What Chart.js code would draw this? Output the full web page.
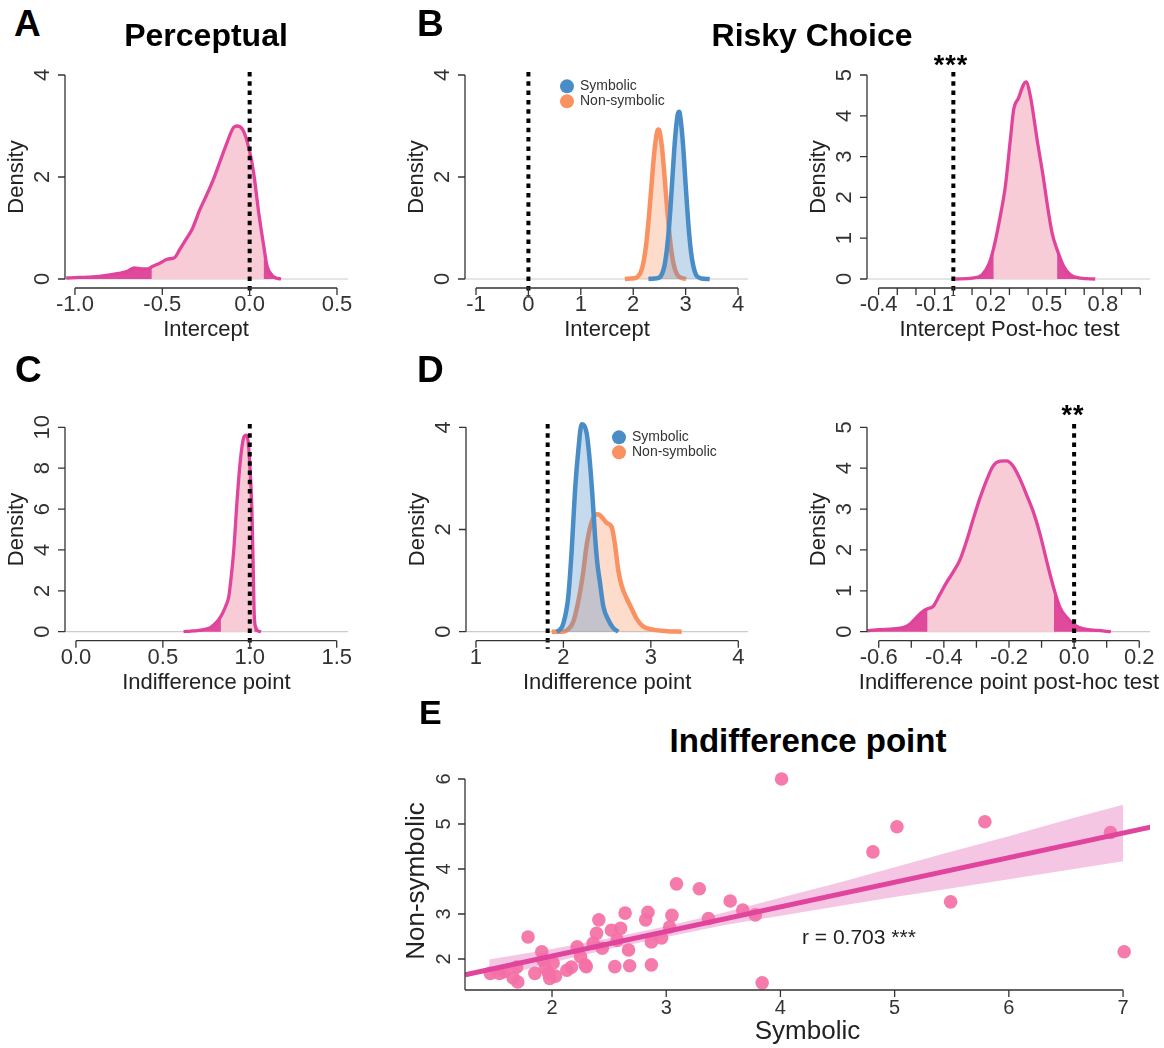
<!DOCTYPE html>
<html>
<head>
<meta charset="utf-8">
<script src="https://cdn.jsdelivr.net/npm/chart.js@4.4.1/dist/chart.umd.min.js"></script>
<style>
    body { margin: 0; background: #fff; width: 1164px; height: 1048px; position: relative; overflow: hidden;
           font-family: "Liberation Sans", Arial, sans-serif; }
    canvas { position: absolute; }
    .lbl { position: absolute; white-space: nowrap; line-height: 1; color: #000; }
    .dot { display: inline-block; width: 14px; height: 14px; border-radius: 50%; vertical-align: middle; margin-right: 6px; }
    .leg { position: absolute; font-size: 14px; color: #333; line-height: 1; white-space: nowrap; transform: translate(-7px, -50%); }
</style>
</head>
<body>
<canvas id="cA"></canvas>
<canvas id="cB1"></canvas>
<canvas id="cB2"></canvas>
<canvas id="cC"></canvas>
<canvas id="cD1"></canvas>
<canvas id="cD2"></canvas>
<canvas id="cE"></canvas>

<div class="lbl" style="left:14px;top:23px;transform:translateY(-50%);font-size:37px;font-weight:bold">A</div>
<div class="lbl" style="left:206px;top:35px;transform:translate(-50%,-50%);font-size:32px;font-weight:bold">Perceptual</div>
<div class="lbl" style="left:417px;top:23px;transform:translateY(-50%);font-size:37px;font-weight:bold">B</div>
<div class="lbl" style="left:812px;top:35px;transform:translate(-50%,-50%);font-size:32px;font-weight:bold">Risky Choice</div>
<div class="lbl" style="left:15px;top:369px;transform:translateY(-50%);font-size:37px;font-weight:bold">C</div>
<div class="lbl" style="left:417px;top:369px;transform:translateY(-50%);font-size:37px;font-weight:bold">D</div>
<div class="lbl" style="left:419px;top:712px;transform:translateY(-50%);font-size:34px;font-weight:bold">E</div>
<div class="lbl" style="left:808px;top:740px;transform:translate(-50%,-50%);font-size:33px;font-weight:bold">Indifference point</div>

<div class="lbl" style="left:951px;top:65px;transform:translate(-50%,-50%);font-size:27px;font-weight:bold;letter-spacing:1px">***</div>
<div class="lbl" style="left:1073px;top:415px;transform:translate(-50%,-50%);font-size:27px;font-weight:bold;letter-spacing:1px">**</div>
<div class="lbl" style="left:802px;top:936px;transform:translateY(-50%);font-size:21px;color:#222">r = 0.703 ***</div>

<div class="leg" style="left:567px;top:86px"><span class="dot" style="background:#4a8dc6"></span>Symbolic</div>
<div class="leg" style="left:567px;top:101px"><span class="dot" style="background:#fa9160"></span>Non-symbolic</div>
<div class="leg" style="left:619px;top:437px"><span class="dot" style="background:#4a8dc6"></span>Symbolic</div>
<div class="leg" style="left:619px;top:452px"><span class="dot" style="background:#fa9160"></span>Non-symbolic</div>

<script>
// ---- data ----

// A: perceptual intercept posterior
const percX = [-1.05, -0.98, -0.9, -0.82, -0.75, -0.7, -0.66, -0.62, -0.58, -0.56, -0.52, -0.47, -0.43, -0.4, -0.36, -0.33, -0.285, -0.25, -0.208, -0.17, -0.13, -0.092, -0.07, -0.035, 0, 0.023, 0.052, 0.08, 0.1, 0.129, 0.15, 0.18];
const percY = [0.02, 0.03, 0.04, 0.07, 0.11, 0.15, 0.22, 0.2, 0.2, 0.24, 0.3, 0.39, 0.42, 0.58, 0.8, 0.97, 1.36, 1.62, 1.95, 2.3, 2.67, 2.97, 3.0, 2.9, 2.5, 2.08, 1.3, 0.66, 0.25, 0.07, 0.02, 0.0];
const percCI = [-0.56, 0.08];

// B left: risky choice intercept
const riskIntSymX = [2.29, 2.4, 2.5, 2.55, 2.6, 2.65, 2.7, 2.75, 2.8, 2.85, 2.88, 2.9, 2.95, 3.0, 3.05, 3.1, 3.15, 3.2, 3.25, 3.3, 3.46];
const riskIntSymY = [0.0, 0.01, 0.03, 0.1, 0.28, 0.65, 1.24, 2.02, 2.77, 3.23, 3.28, 3.17, 2.64, 1.85, 1.1, 0.55, 0.24, 0.08, 0.03, 0.01, 0.0];
const riskIntNonX = [1.84, 1.95, 2.05, 2.1, 2.15, 2.2, 2.25, 2.3, 2.35, 2.4, 2.45, 2.48, 2.5, 2.55, 2.6, 2.65, 2.7, 2.75, 2.8, 2.85, 2.9, 3.01];
const riskIntNonY = [0.0, 0.01, 0.02, 0.06, 0.15, 0.35, 0.7, 1.23, 1.85, 2.46, 2.86, 2.93, 2.9, 2.57, 1.98, 1.34, 0.79, 0.4, 0.18, 0.07, 0.03, 0.0];

// B right: intercept post-hoc test
const postIntX = [0.011, 0.1, 0.153, 0.189, 0.216, 0.251, 0.278, 0.305, 0.323, 0.349, 0.376, 0.389, 0.412, 0.448, 0.483, 0.501, 0.528, 0.555, 0.59, 0.626, 0.679, 0.759];
const postIntY = [0.0, 0.02, 0.1, 0.35, 0.76, 1.54, 2.27, 3.42, 4.16, 4.44, 4.77, 4.83, 4.48, 3.42, 2.44, 1.87, 1.13, 0.72, 0.31, 0.1, 0.02, 0.0];
const postIntCI = [0.216, 0.555];

// C: perceptual indifference point
const percIndX = [0.619, 0.66, 0.696, 0.734, 0.773, 0.802, 0.834, 0.86, 0.879, 0.889, 0.908, 0.927, 0.946, 0.965, 0.979, 0.99, 1.0, 1.012, 1.02, 1.026, 1.035, 1.045, 1.065];
const percIndY = [0.0, 0.03, 0.05, 0.1, 0.2, 0.4, 0.75, 1.22, 1.71, 2.37, 4.0, 6.44, 8.4, 9.5, 9.62, 9.35, 8.2, 6.0, 3.0, 0.75, 0.2, 0.05, 0.0];
const percIndCI = [0.834, 1.026];

// D left: risky choice indifference point
const riskIndSymX = [1.923, 1.961, 1.999, 2.056, 2.095, 2.133, 2.171, 2.209, 2.266, 2.304, 2.335, 2.362, 2.388, 2.419, 2.457, 2.514, 2.571, 2.628];
const riskIndSymY = [0.0, 0.04, 0.16, 0.69, 1.6, 2.77, 3.56, 4.06, 3.88, 3.29, 2.58, 1.86, 1.34, 0.95, 0.49, 0.23, 0.07, 0.0];
const riskIndNonX = [1.866, 1.999, 2.056, 2.114, 2.171, 2.221, 2.266, 2.323, 2.381, 2.419, 2.495, 2.552, 2.59, 2.628, 2.666, 2.724, 2.781, 2.838, 2.914, 3.028, 3.182, 3.353];
const riskIndNonY = [0.0, 0.0, 0.05, 0.2, 0.6, 1.1, 1.7, 2.15, 2.3, 2.28, 2.13, 2.05, 1.7, 1.2, 0.9, 0.65, 0.45, 0.25, 0.1, 0.04, 0.01, 0.0];

// D right: indifference point post-hoc test
const postIndX = [-0.638, -0.597, -0.556, -0.525, -0.505, -0.484, -0.464, -0.45, -0.433, -0.413, -0.392, -0.372, -0.351, -0.331, -0.31, -0.29, -0.269, -0.249, -0.228, -0.208, -0.187, -0.167, -0.146, -0.126, -0.105, -0.085, -0.062, -0.044, -0.023, 0.0, 0.03, 0.072, 0.113];
const postIndY = [0.02, 0.05, 0.07, 0.1, 0.18, 0.35, 0.5, 0.56, 0.62, 0.9, 1.2, 1.45, 1.75, 2.2, 2.75, 3.25, 3.7, 4.05, 4.17, 4.18, 4.05, 3.75, 3.35, 2.95, 2.4, 1.75, 1.05, 0.6, 0.35, 0.17, 0.07, 0.03, 0.0];
const postIndCI = [-0.45, -0.062];

// E: per-participant indifference points
const symbolic = [1.46, 1.54, 1.58, 1.66, 1.70, 1.69, 1.79, 1.91, 1.85, 1.92, 1.97, 1.98, 2.01, 1.94, 2.03, 2.13, 2.17, 2.22, 2.29, 2.30, 2.25, 2.39, 2.41, 2.36, 2.44, 2.52, 2.60, 2.57, 2.55, 2.64, 2.67, 2.68, 2.82, 2.84, 2.87, 2.87, 2.96, 3.05, 3.03, 3.09, 3.29, 3.37, 3.56, 3.67, 3.78, 3.84, 4.01, 4.81, 5.02, 5.79, 6.89, 5.49, 7.01];
const nonSymbolic = [1.68, 1.68, 1.72, 1.58, 1.49, 1.82, 2.49, 2.16, 1.68, 1.98, 1.68, 1.57, 1.91, 1.80, 1.62, 1.75, 1.82, 2.27, 1.87, 1.83, 2.05, 2.57, 2.87, 2.35, 2.24, 2.64, 2.68, 2.42, 1.83, 3.02, 2.20, 1.85, 2.87, 3.04, 2.38, 1.87, 2.47, 2.97, 2.71, 3.67, 3.56, 2.90, 3.29, 3.09, 2.98, 1.47, 6.0, 4.38, 4.94, 5.05, 4.81, 3.27, 2.16];
const fitX = [1.24, 7.24];
const fitY = [1.65, 4.93];
const bandX = [1.45, 2, 2.5, 3, 3.5, 4, 4.5, 5, 5.5, 6, 6.5, 7];
const bandHi = [1.99, 2.22, 2.46, 2.73, 3.03, 3.36, 3.69, 4.04, 4.39, 4.73, 5.09, 5.43];
const bandLo = [1.55, 1.92, 2.22, 2.49, 2.75, 2.96, 3.17, 3.38, 3.57, 3.77, 3.97, 4.17];

// tick values and labels
const percTicks = [-1, -0.5, 0, 0.5];
const percTickLabels = ['-1.0', '-0.5', '0.0', '0.5'];
const riskIntTicks = [-1, 0, 1, 2, 3, 4];
const riskIntTickLabels = ['-1', '0', '1', '2', '3', '4'];
const postIntTicks = [-0.4, -0.3, -0.2, -0.1, 0, 0.1, 0.2, 0.3, 0.4, 0.5, 0.6, 0.7, 0.8, 0.9, 1.0];
const postIntTickLabels = ['-0.4', '', '', '-0.1', '', '', '0.2', '', '', '0.5', '', '', '0.8', '', ''];
const percIndTicks = [0, 0.5, 1, 1.5];
const percIndTickLabels = ['0.0', '0.5', '1.0', '1.5'];
const riskIndTicks = [1, 2, 3, 4];
const riskIndTickLabels = ['1', '2', '3', '4'];
const postIndTicks = [-0.6, -0.5, -0.4, -0.3, -0.2, -0.1, 0, 0.1, 0.2];
const postIndTickLabels = ['-0.6', '', '-0.4', '', '-0.2', '', '0.0', '', '0.2'];
const density4 = [0, 2, 4];
const density5 = [0, 1, 2, 3, 4, 5];
const density10 = [0, 2, 4, 6, 8, 10];
const eXTicks = [2, 3, 4, 5, 6, 7];
const eYTicks = [2, 3, 4, 5, 6];

// ---- styling ----
const MAGENTA = '#e0449c';
const PINK_FILL = '#f8ccd7';
const TAIL_FILL = 'rgba(222,66,154,0.95)';
const BLUE = '#4a8dc6';
const ORANGE = '#fa9160';
const FONT = '"Liberation Sans", Arial, sans-serif';

// draws R-style axes, the grey zero line and the dotted reference line
const rAxes = {
    id: 'rAxes',
    beforeDatasetsDraw(chart, args, o) {
        if (!o.baseline) return;
        const { ctx, chartArea: a } = chart;
        const py = chart.scales.y.getPixelForValue(0);
        ctx.save();
        ctx.strokeStyle = '#cccccc';
        ctx.lineWidth = 1.2;
        ctx.beginPath();
        ctx.moveTo(a.left, py);
        ctx.lineTo(a.right, py);
        ctx.stroke();
        ctx.restore();
    },
    afterDraw(chart, args, o) {
        const { ctx, chartArea: a, scales: { x, y } } = chart;
        const onBox = o.xAxisAt === 'bottom';
        const axY = onBox ? a.bottom : y.getPixelForValue(0) + o.gap;
        const xs = o.xTicks.map(v => x.getPixelForValue(v));
        const ys = o.yTicks.map(v => y.getPixelForValue(v));
        const x0 = onBox ? a.left : xs[0];
        const y0 = onBox ? a.bottom : ys[0];

        // dotted reference line
        if (o.refX !== undefined) {
            const px = x.getPixelForValue(o.refX);
            ctx.save();
            ctx.strokeStyle = '#000';
            ctx.lineWidth = 4;
            ctx.setLineDash([4.5, 4.8]);
            ctx.beginPath();
            ctx.moveTo(px, a.top + 2);
            ctx.lineTo(px, axY + 8);
            ctx.stroke();
            ctx.restore();
        }

        ctx.save();
        ctx.strokeStyle = '#333';
        ctx.fillStyle = '#333';
        ctx.lineWidth = 1.3;
        ctx.beginPath();
        ctx.moveTo(x0, axY);
        ctx.lineTo(xs[xs.length - 1], axY);
        xs.forEach(px => { ctx.moveTo(px, axY); ctx.lineTo(px, axY + 7); });
        ctx.moveTo(a.left, y0);
        ctx.lineTo(a.left, ys[ys.length - 1]);
        ys.forEach(py => { ctx.moveTo(a.left, py); ctx.lineTo(a.left - 7, py); });
        ctx.stroke();

        ctx.textAlign = 'center';
        ctx.textBaseline = 'middle';
        ctx.font = o.tickFont;
        xs.forEach((px, i) => { if (o.xLabels[i]) ctx.fillText(o.xLabels[i], px, axY + o.xLabelGap); });
        ys.forEach((py, i) => {
            ctx.save();
            ctx.translate(a.left - o.yLabelGap, py);
            ctx.rotate(-Math.PI / 2);
            ctx.fillText(String(o.yTicks[i]), 0, 0);
            ctx.restore();
        });

        ctx.font = o.titleFont;
        ctx.fillStyle = '#222';
        const tx = onBox ? (a.left + a.right) / 2 : (xs[0] + xs[xs.length - 1]) / 2;
        const ty = onBox ? (a.top + a.bottom) / 2 : (ys[0] + ys[ys.length - 1]) / 2;
        ctx.fillText(o.xTitle, tx, axY + o.xTitleGap);
        ctx.save();
        ctx.translate(a.left - o.yTitleGap, ty);
        ctx.rotate(-Math.PI / 2);
        ctx.fillText(o.yTitle, 0, 0);
        ctx.restore();
        ctx.restore();
    }
};

const pts = (xs, ys) => xs.map((x, i) => ({ x: x, y: ys[i] }));

// curve with its light fill
const curve = (xs, ys, line, fill, width) => ({
    type: 'line', data: pts(xs, ys), borderColor: line, backgroundColor: fill,
    fill: 'origin', borderWidth: width, pointRadius: 0, cubicInterpolationMode: 'monotone', order: 2
});

// dark tails outside the credible interval
const tails = (xs, ys, ci) => {
    const all = pts(xs, ys);
    const mk = d => ({
        type: 'line', data: d, borderWidth: 0, backgroundColor: TAIL_FILL,
        fill: 'origin', pointRadius: 0, cubicInterpolationMode: 'monotone', order: 1
    });
    return [mk(all.filter(p => p.x <= ci[0])), mk(all.filter(p => p.x >= ci[1]))];
};

const densityAxes = (xTicks, xLabels, yTicks, xTitle, refX) => ({
    baseline: true, gap: 9, refX: refX,
    xTicks: xTicks, xLabels: xLabels, yTicks: yTicks,
    xTitle: xTitle, yTitle: 'Density',
    tickFont: '22px ' + FONT, titleFont: '22px ' + FONT,
    xLabelGap: 17, xTitleGap: 42, yLabelGap: 22, yTitleGap: 48
});

function makeChart(id, box, area, xlim, ylim, datasets, axes) {
    const cv = document.getElementById(id);
    cv.width = box.w;
    cv.height = box.h;
    cv.style.left = box.x + 'px';
    cv.style.top = box.y + 'px';
    cv.style.width = box.w + 'px';
    cv.style.height = box.h + 'px';
    return new Chart(cv, {
        type: 'line',
        data: { datasets: datasets },
        options: {
            responsive: false,
            animation: false,
            devicePixelRatio: 1,
            layout: {
                padding: {
                    left: area.l - box.x, right: box.x + box.w - area.r,
                    top: area.t - box.y, bottom: box.y + box.h - area.b
                }
            },
            scales: {
                x: { type: 'linear', min: xlim[0], max: xlim[1], display: false },
                y: { type: 'linear', min: ylim[0], max: ylim[1], display: false }
            },
            plugins: { legend: { display: false }, tooltip: { enabled: false }, rAxes: axes }
        },
        plugins: [rAxes]
    });
}

// A
makeChart('cA', { x: 0, y: 50, w: 390, h: 300 }, { l: 65, r: 348, t: 70, b: 284 },
    [-1.057, 0.563], [-0.098, 4.098],
    [curve(percX, percY, MAGENTA, PINK_FILL, 3.3), ...tails(percX, percY, percCI)],
    densityAxes(percTicks, percTickLabels, density4, 'Intercept', 0));

// B left
makeChart('cB1', { x: 400, y: 50, w: 380, h: 300 }, { l: 465, r: 748, t: 70, b: 284 },
    [-1.21, 4.19], [-0.098, 4.098],
    [curve(riskIntSymX, riskIntSymY, BLUE, 'rgba(74,141,198,0.32)', 4.5),
     curve(riskIntNonX, riskIntNonY, ORANGE, 'rgba(250,145,96,0.32)', 4.5)],
    densityAxes(riskIntTicks, riskIntTickLabels, density4, 'Intercept', 0));

// B right
makeChart('cB2', { x: 780, y: 50, w: 384, h: 300 }, { l: 867, r: 1150, t: 70, b: 284 },
    [-0.462, 1.052], [-0.123, 5.123],
    [curve(postIntX, postIntY, MAGENTA, PINK_FILL, 3.3), ...tails(postIntX, postIntY, postIntCI)],
    densityAxes(postIntTicks, postIntTickLabels, density5, 'Intercept Post-hoc test', 0));

// C
makeChart('cC', { x: 0, y: 400, w: 390, h: 300 }, { l: 65, r: 348, t: 422, b: 637 },
    [-0.063, 1.565], [-0.26, 10.26],
    [curve(percIndX, percIndY, MAGENTA, PINK_FILL, 3.3), ...tails(percIndX, percIndY, percIndCI)],
    densityAxes(percIndTicks, percIndTickLabels, density10, 'Indifference point', 1));

// D left
makeChart('cD1', { x: 400, y: 400, w: 380, h: 300 }, { l: 466, r: 748, t: 422, b: 637 },
    [0.886, 4.111], [-0.104, 4.104],
    [curve(riskIndSymX, riskIndSymY, BLUE, 'rgba(74,141,198,0.32)', 4.5),
     curve(riskIndNonX, riskIndNonY, ORANGE, 'rgba(250,145,96,0.32)', 4.5)],
    densityAxes(riskIndTicks, riskIndTickLabels, density4, 'Indifference point', 1.82));

// D right
makeChart('cD2', { x: 780, y: 400, w: 384, h: 300 }, { l: 867, r: 1150, t: 422, b: 637 },
    [-0.636, 0.233], [-0.13, 5.13],
    [curve(postIndX, postIndY, MAGENTA, PINK_FILL, 3.3), ...tails(postIndX, postIndY, postIndCI)],
    densityAxes(postIndTicks, postIndTickLabels, density5, 'Indifference point post-hoc test', 0));

// E
makeChart('cE', { x: 400, y: 760, w: 764, h: 288 }, { l: 465, r: 1150, t: 772, b: 990 },
    [1.238, 7.236], [1.311, 6.156],
    [
        { type: 'line', data: pts(fitX, fitY), borderColor: MAGENTA, borderWidth: 5, pointRadius: 0, fill: false, order: 0 },
        { type: 'scatter', data: pts(symbolic, nonSymbolic), backgroundColor: 'rgba(244,112,166,0.92)',
          borderWidth: 0, pointRadius: 6.8, clip: false, order: 1 },
        { type: 'line', data: pts(bandX, bandHi), borderWidth: 0, pointRadius: 0,
          backgroundColor: 'rgba(236,150,205,0.55)', fill: '+1', order: 2 },
        { type: 'line', data: pts(bandX, bandLo), borderWidth: 0, pointRadius: 0, fill: false, order: 3 }
    ],
    {
        baseline: false, xAxisAt: 'bottom',
        xTicks: eXTicks, xLabels: eXTicks.map(String), yTicks: eYTicks,
        xTitle: 'Symbolic', yTitle: 'Non-symbolic',
        tickFont: '20px ' + FONT, titleFont: '26px ' + FONT,
        xLabelGap: 18, xTitleGap: 42, yLabelGap: 21, yTitleGap: 48
    });
</script>
</body>
</html>
